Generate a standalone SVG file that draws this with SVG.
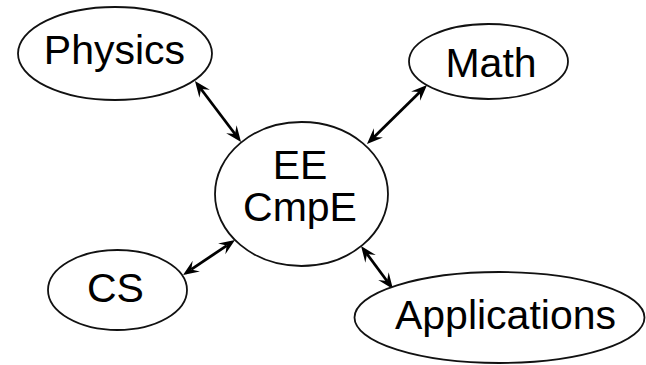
<svg xmlns="http://www.w3.org/2000/svg" width="646" height="365" viewBox="0 0 646 365">
  <style>
    .node ellipse { fill: #ffffff; stroke: #111111; stroke-width: 1.8; }
    .node text { font-family: "Liberation Sans", Arial, sans-serif; font-size: 41px; fill: #000000; text-anchor: middle; }
    .edge { stroke: #000000; stroke-width: 2.8; fill: none; marker-start: url(#head); marker-end: url(#head); }
  </style>
  <defs>
    <!-- notched arrowhead; the line stops at the notch and the tip reaches the outline -->
    <marker id="head" markerUnits="userSpaceOnUse" viewBox="-7 -8 19 16" markerWidth="19" markerHeight="16" refX="0" refY="0" orient="auto-start-reverse">
      <path d="M10,0 L-6,-6.5 L0,0 L-6,6.5 Z" fill="#000000"/>
    </marker>
  </defs>
  <rect width="646" height="365" fill="#ffffff"/>

  <g id="connectors">
    <line class="edge" x1="201.0" y1="89.0" x2="235.0" y2="134.0"/>
    <line class="edge" x1="419.9" y1="92.0" x2="374.1" y2="137.0"/>
    <line class="edge" x1="191.3" y1="269.4" x2="226.7" y2="245.6"/>
    <line class="edge" x1="367.0" y1="254.0" x2="387.0" y2="281.0"/>
  </g>

  <g id="physics" class="node">
    <ellipse cx="115" cy="53.5" rx="97" ry="46.5"/>
    <text x="114.5" y="64">Physics</text>
  </g>

  <g id="math" class="node">
    <ellipse cx="488.5" cy="61.5" rx="79.5" ry="37.5"/>
    <text x="491" y="77">Math</text>
  </g>

  <g id="ee-cmpe" class="node">
    <ellipse cx="301.5" cy="194" rx="86.5" ry="72"/>
    <text x="300" y="179">EE</text>
    <text x="300" y="221">CmpE</text>
  </g>

  <g id="cs" class="node">
    <ellipse cx="117.5" cy="290" rx="69.5" ry="40"/>
    <text x="115.5" y="302">CS</text>
  </g>

  <g id="applications" class="node">
    <ellipse cx="499.5" cy="317.5" rx="145" ry="45.5"/>
    <text x="505.5" y="329">Applications</text>
  </g>
</svg>
